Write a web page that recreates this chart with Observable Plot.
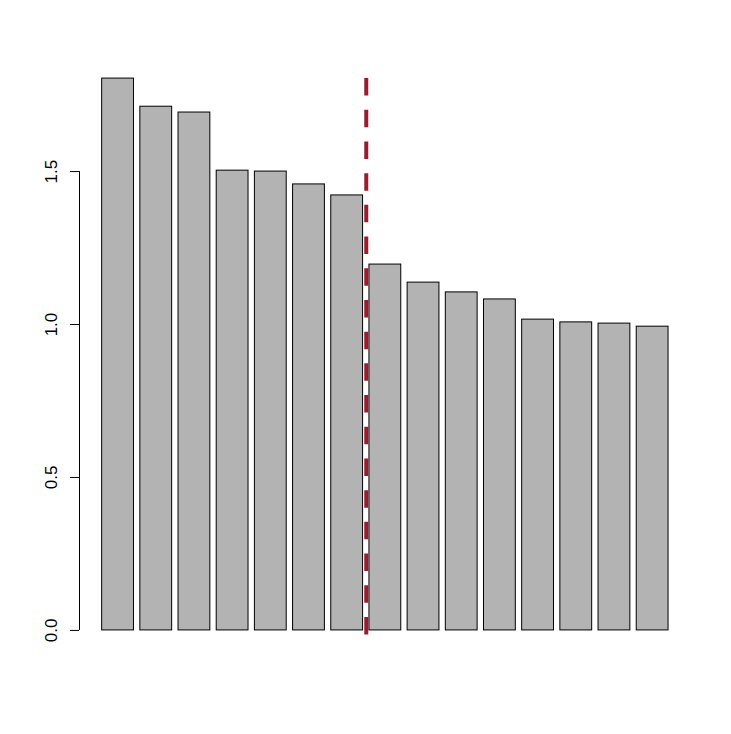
<!DOCTYPE html>
<html>
<head>
<meta charset="utf-8">
<script src="https://cdn.jsdelivr.net/npm/d3@7"></script>
<script src="https://cdn.jsdelivr.net/npm/@observablehq/plot@0.6"></script>
<style>
  html, body { margin: 0; padding: 0; background: #ffffff; }
  svg { display: block; }
</style>
</head>
<body>
<div id="chart"></div>
<script>
// Bar heights (left to right)
const values = [1.804, 1.712, 1.693, 1.503, 1.500, 1.458, 1.422, 1.196, 1.137, 1.105, 1.082, 1.016, 1.007, 1.003, 0.993];
// Y axis ticks and labels
const yTicks = [0, 0.5, 1.0, 1.5];
const yTickLabels = ["0.0", "0.5", "1.0", "1.5"];
// The dashed cutoff line falls after this many bars
const cutoffAfter = 7;

// R barplot geometry: bar width 1, space 0.2
const barWidth = 1, space = 0.2;
const bars = values.map((v, i) => ({
  x1: space + i * (barWidth + space),
  x2: space + i * (barWidth + space) + barWidth,
  value: v
}));
const xLo = space, xHi = values.length * (barWidth + space);
const xPad = 0.04 * (xHi - xLo);
const xMin = xLo - xPad, xMax = xHi + xPad;
const yMaxV = d3.max(values);
const yPad = 0.04 * yMaxV;
const cutoffX = cutoffAfter * (barWidth + space) + space / 2;

const chart = Plot.plot({
  width: 731,
  height: 734,
  marginLeft: 79,
  marginRight: 40.3,
  marginTop: 56,
  marginBottom: 82,
  style: { fontFamily: "'Liberation Sans', Arial, Helvetica, sans-serif", background: "white" },
  x: { type: "linear", domain: [xMin, xMax], axis: null },
  y: { type: "linear", domain: [-yPad, yMaxV + yPad], axis: null },
  marks: [
    Plot.rect(bars, { x1: "x1", x2: "x2", y1: 0, y2: "value", fill: "#b3b3b3", stroke: "#000000", strokeWidth: 1 }),
    Plot.ruleX([cutoffX], { y1: yMaxV, y2: -0.02, stroke: "#9b1c2e", strokeWidth: 4, strokeDasharray: "17.5,14.2" }),
    Plot.ruleX([xMin], { y1: yTicks[0], y2: yTicks[yTicks.length - 1], stroke: "#000000", strokeWidth: 1 }),
    Plot.axisY({ ticks: yTicks, tickSize: 9, tickFormat: () => "", label: null, stroke: "#000000" }),
    Plot.text(yTicks, { x: xMin, y: d => d, text: (d, i) => yTickLabels[i], rotate: -90, dx: -28, fontSize: 17, fill: "#000000", textAnchor: "middle" })
  ]
});
document.getElementById("chart").appendChild(chart);
</script>
</body>
</html>
